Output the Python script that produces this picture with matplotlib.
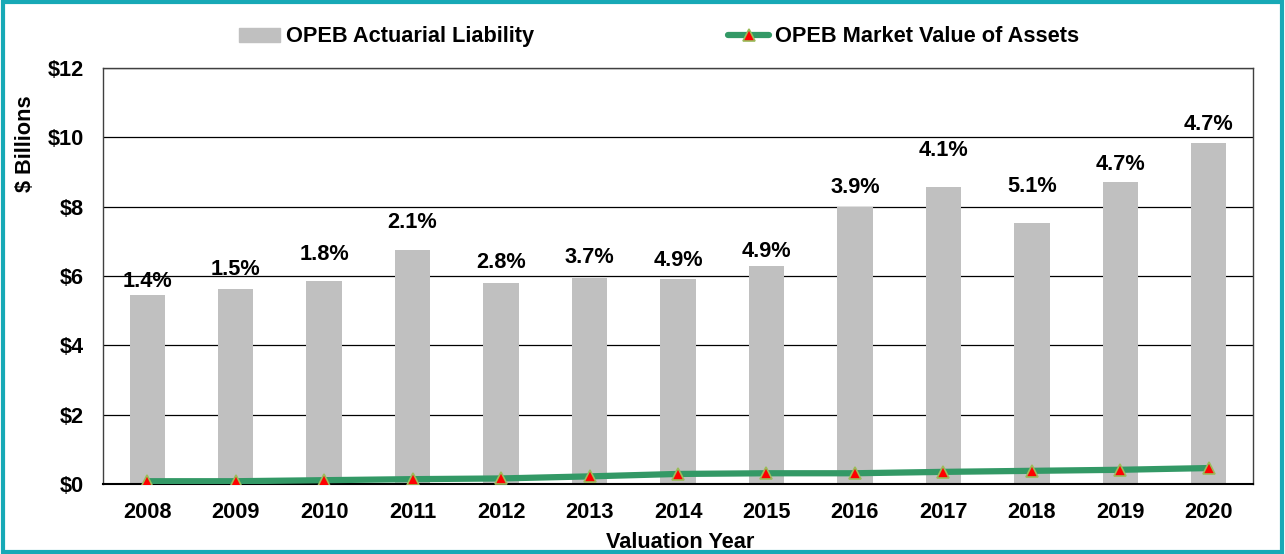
import matplotlib
matplotlib.use("Agg")
import matplotlib.pyplot as plt
from matplotlib.patches import Rectangle
from matplotlib.lines import Line2D

plt.rcParams['font.family'] = ['Liberation Sans', 'DejaVu Sans']
plt.rcParams['font.weight'] = 'bold'

years = ['2008', '2009', '2010', '2011', '2012', '2013', '2014',
         '2015', '2016', '2017', '2018', '2019', '2020']
liability = [5.46, 5.62, 5.86, 6.74, 5.80, 5.94, 5.91, 6.29, 8.00, 8.58, 7.52, 8.71, 9.85]
assets = [0.08, 0.08, 0.11, 0.14, 0.16, 0.22, 0.29, 0.31, 0.31, 0.35, 0.38, 0.41, 0.46]
pct_labels = ['1.4%', '1.5%', '1.8%', '2.1%', '2.8%', '3.7%', '4.9%',
              '4.9%', '3.9%', '4.1%', '5.1%', '4.7%', '4.7%']
# heights (in $ billions) where the ratio labels sit, as placed in the original
label_heights = [5.84, 6.20, 6.63, 7.54, 6.40, 6.54, 6.44, 6.70, 8.56, 9.63, 8.58, 9.22, 10.38]
yticks = [0, 2, 4, 6, 8, 10, 12]
ytick_labels = ['$0', '$2', '$4', '$6', '$8', '$10', '$12']

FS = 15.7
W, H = 1285, 554
L, R, T, B = 103, 1253, 68, 484

fig = plt.figure(figsize=(12.85, 5.54), dpi=100)
ax = fig.add_axes([L/W, 1-B/H, (R-L)/W, (B-T)/H])

x = list(range(len(years)))
ax.bar(x, liability, width=0.4, color='#C0C0C0', zorder=2,
       label='OPEB Actuarial Liability')
ax.plot(x, assets, color='#339966', linewidth=4.5, solid_capstyle='round',
        marker='^', markersize=8.5, markerfacecolor='#FF0000',
        markeredgecolor='#9BBB59', markeredgewidth=1.2, zorder=3,
        label='OPEB Market Value of Assets')

for xi, h, t in zip(x, label_heights, pct_labels):
    ax.text(xi, h, t, ha='center', va='center', fontsize=FS, fontweight='bold', zorder=4)

ax.set_xlim(-0.5, len(years) - 0.5)
ax.set_ylim(0, 12)
ax.set_yticks(yticks)
ax.set_yticklabels(ytick_labels)
ax.set_xticks(x)
ax.set_xticklabels(years)
ax.tick_params(axis='both', length=0, labelsize=FS)
ax.tick_params(axis='x', pad=13)
ax.tick_params(axis='y', pad=14)
ax.grid(axis='y', color='black', linewidth=0.9, zorder=0)
ax.set_axisbelow(True)
for s in ax.spines.values():
    s.set_color('#404040')
    s.set_linewidth(1.0)
ax.spines['bottom'].set_color('black')
ax.spines['bottom'].set_linewidth(1.5)

ax.set_xlabel('Valuation Year', fontsize=FS, fontweight='bold')
ax.xaxis.set_label_coords((680-L)/(R-L), (B-543)/(B-T))
ax.set_ylabel('$ Billions', fontsize=FS, fontweight='bold')
ax.yaxis.set_label_coords((25-L)/(R-L), (B-144)/(B-T))
ax.xaxis.label.set_va('center')
ax.yaxis.label.set_va('center')

handles = [Rectangle((0, 0), 1, 1, color='#C0C0C0'),
           Line2D([0], [0], color='#339966', linewidth=4.5, solid_capstyle='round',
                  marker='^', markersize=8.5, markerfacecolor='#FF0000',
                  markeredgecolor='#9BBB59', markeredgewidth=1.2)]
fig.legend(handles, ['OPEB Actuarial Liability', 'OPEB Market Value of Assets'],
           loc='center', bbox_to_anchor=(659/W, 1-37/H), ncol=2,
           frameon=False, fontsize=FS, handlelength=1.9, handletextpad=0.25,
           columnspacing=8.9, handleheight=0.6)

fig.patches.append(Rectangle((0.002, 0.003), 0.996, 0.993, transform=fig.transFigure,
                             fill=False, edgecolor='#17A9B6', linewidth=3))

fig.savefig('out.png', dpi=100)
